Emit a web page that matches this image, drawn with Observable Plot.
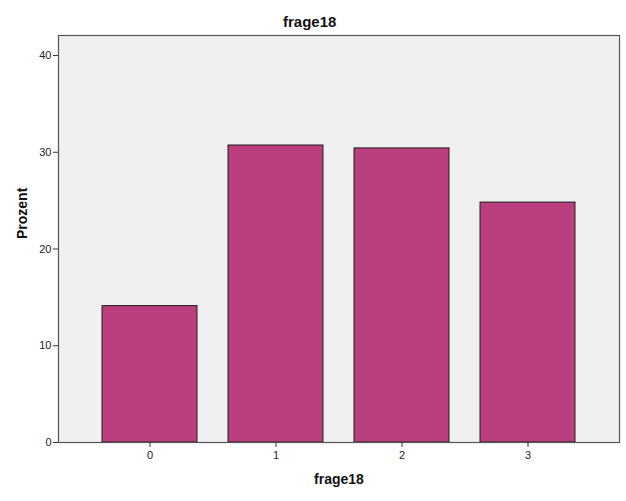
<!DOCTYPE html>
<html>
<head>
<meta charset="utf-8">
<script src="https://cdn.jsdelivr.net/npm/d3@7"></script>
<script src="https://cdn.jsdelivr.net/npm/@observablehq/plot@0.6"></script>
<style>
  html, body { margin: 0; padding: 0; background: #fff; }
  #title {
    width: 626px; height: 30px; box-sizing: border-box; padding-top: 14px; padding-left: 283px;
    line-height: 16px; text-align: left; white-space: nowrap;
    font-family: 'Liberation Sans', Arial, sans-serif; font-weight: bold; font-size: 15px; color: #111;
  }
  #chart svg { display: block; }
</style>
</head>
<body>
<div id="title"></div>
<div id="chart"></div>
<script>
const categories = ["0", "1", "2", "3"];
const percents = [14.1, 30.7, 30.4, 24.8];
const yTicks = [0, 10, 20, 30, 40];
const chartTitle = "frage18";
const xLabel = "frage18";
const yLabel = "Prozent";

document.getElementById("title").textContent = chartTitle;

const data = categories.map((c, i) => ({ cat: c, value: percents[i] }));

const W = 626, H = 471;
const mL = 58, mR = 7, mT = 5, mB = 59;

const plot = Plot.plot({
  width: W,
  height: H,
  marginLeft: mL,
  marginRight: mR,
  marginTop: mT,
  marginBottom: mB,
  style: { fontFamily: "'Liberation Sans', Arial, sans-serif", fontSize: "11px", color: "#222", background: "#fff" },
  x: { domain: categories, paddingInner: 0.248, paddingOuter: 0.345 },
  y: { domain: [0, 42.07] },
  marks: [
    Plot.frame({ fill: "#f0f0f0", stroke: null }),
    Plot.barY(data, { x: "cat", y: "value", fill: "#bb3f7e", stroke: "#1e1e1e", strokeWidth: 1 }),
    Plot.frame({ stroke: "#555", strokeWidth: 1.2 }),
    Plot.axisY({ ticks: yTicks, tickSize: 5, tickPadding: 2, stroke: "#333", fill: "#222", label: null, fontSize: 11 }),
    Plot.axisX({ tickSize: 5, tickPadding: 4, stroke: "#333", fill: "#222", label: null, fontSize: 11 }),
    Plot.text([yLabel], { frameAnchor: "left", dx: -36, rotate: -90, fontWeight: "bold", fontSize: 14, fill: "#111" }),
    Plot.text([xLabel], { frameAnchor: "bottom", lineAnchor: "middle", textAnchor: "middle", dy: 37, fontWeight: "bold", fontSize: 14, fill: "#111" })
  ]
});
document.getElementById("chart").appendChild(plot);
</script>
</body>
</html>
